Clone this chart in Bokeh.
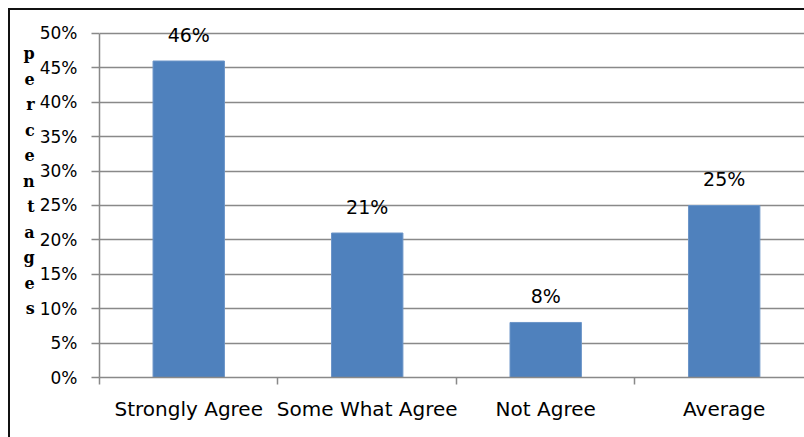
from bokeh.plotting import figure
from bokeh.models import (ColumnDataSource, Range1d, FixedTicker, NumeralTickFormatter,
                          LabelSet, Column)
from bokeh.core.properties import value
from bokeh.embed import file_html
from bokeh.resources import INLINE
import numpy as np

categories = ["Strongly Agree", "Some What Agree", "Not Agree", "Average"]
values = [0.46, 0.21, 0.08, 0.25]
value_labels = ["46%", "21%", "8%", "25%"]
y_ticks = [0.0, 0.05, 0.10, 0.15, 0.20, 0.25, 0.30, 0.35, 0.40, 0.45, 0.50]
axis_title = "percentages"

xc = np.arange(len(categories)) + 0.5
src = ColumnDataSource(dict(x=xc, top=values, lab=value_labels, cat=categories))

FONT = "DejaVu Sans"
GRID = "#898989"

p = figure(width=794, height=427, output_backend="svg", toolbar_location=None,
           x_range=Range1d(0, 3.95), y_range=Range1d(0, 0.5334),
           min_border_left=89, min_border_right=0, min_border_top=0, min_border_bottom=60)
p.outline_line_color = None
p.background_fill_color = "white"
p.border_fill_color = "white"

p.vbar(x="x", top="top", width=0.4, bottom=0, source=src,
       fill_color="#4F81BD", line_color="#6C95C8", line_width=1)

# y axis
p.yaxis.ticker = FixedTicker(ticks=y_ticks)
p.yaxis.bounds = (0, 0.5)
p.yaxis.formatter = NumeralTickFormatter(format="0%")
p.yaxis.major_label_text_font = FONT
p.yaxis.major_label_text_font_size = "17px"
p.yaxis.major_label_text_color = "black"
p.yaxis.axis_line_color = GRID
p.yaxis.axis_line_width = 1.5
p.yaxis.major_tick_line_color = GRID
p.yaxis.major_tick_line_width = 1.5
p.yaxis.major_tick_out = 8
p.yaxis.major_tick_in = 0
p.yaxis.minor_tick_line_color = None
p.yaxis.major_label_standoff = 14
p.yaxis.axis_label = "\n".join(axis_title) + "\n "
p.yaxis.axis_label_orientation = "horizontal"
p.yaxis.axis_label_text_font = "DejaVu Serif"
p.yaxis.axis_label_text_font_style = "bold"
p.yaxis.axis_label_text_font_size = "16px"
p.yaxis.axis_label_text_color = "black"
p.yaxis.axis_label_text_line_height = 1.34
p.yaxis.axis_label_standoff = 2

# x axis: labels at centers, tick marks at category boundaries
boundaries = list(range(len(categories) + 1))
p.xaxis.ticker = FixedTicker(ticks=list(xc), minor_ticks=boundaries)
p.xaxis.major_label_overrides = {float(x): c for x, c in zip(xc, categories)}
p.xaxis.major_label_text_font = FONT
p.xaxis.major_label_text_font_size = "20px"
p.xaxis.major_label_text_color = "black"
p.xaxis.major_tick_line_color = None
p.xaxis.minor_tick_line_color = GRID
p.xaxis.minor_tick_line_width = 1.5
p.xaxis.minor_tick_out = 7
p.xaxis.minor_tick_in = 0
p.xaxis.axis_line_color = GRID
p.xaxis.axis_line_width = 1.5
p.xaxis.major_label_standoff = 12

p.xgrid.grid_line_color = None
p.ygrid.ticker = FixedTicker(ticks=y_ticks)
p.ygrid.grid_line_color = GRID
p.ygrid.grid_line_width = 1.5

labels = LabelSet(x="x", y="top", text="lab", source=src, text_align="center",
                  text_baseline="bottom", y_offset=15, text_font=value(FONT),
                  text_font_size=value("19px"), text_color="black")
p.add_layout(labels)

layout = Column(p, margin=(8, 0, 0, 8),
                styles={"border-left": "2px solid #111111",
                        "border-top": "2px solid #111111"})

open("out.html", "w").write(file_html(layout, INLINE))
